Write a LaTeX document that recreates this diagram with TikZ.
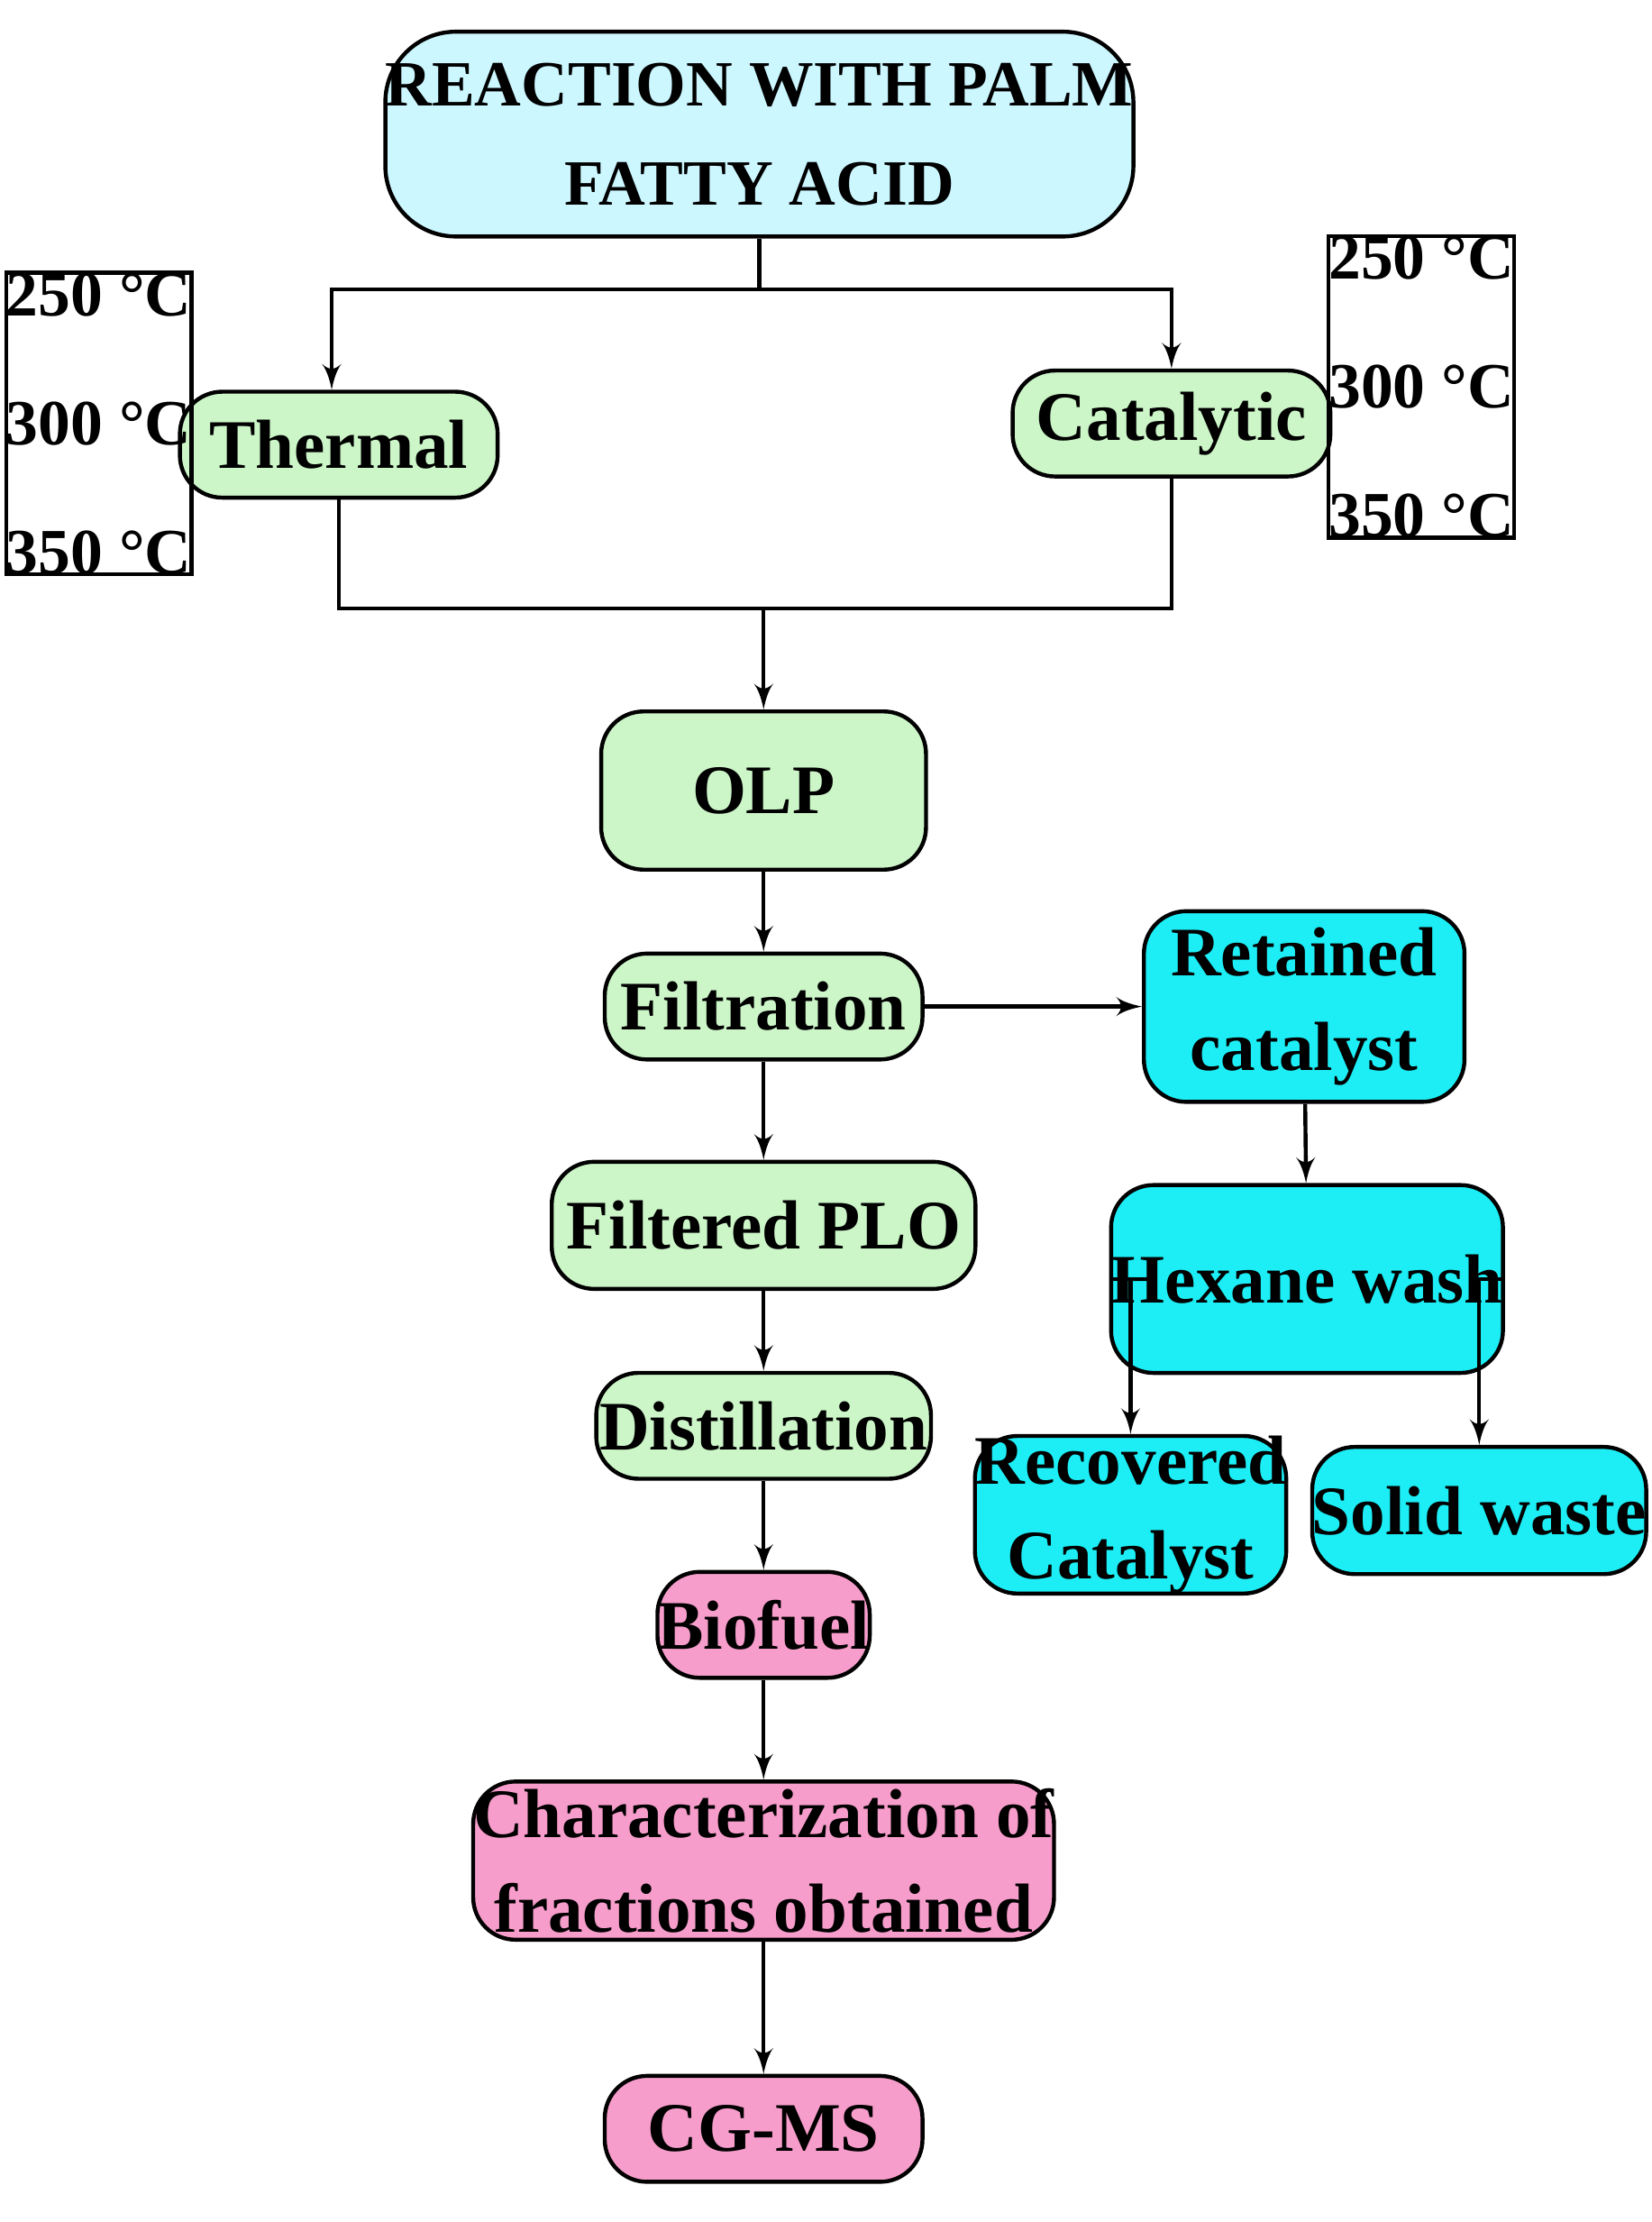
\documentclass[tikz,border=0pt]{standalone}
\usepackage{fontspec}
\setmainfont{Liberation Serif}
\usetikzlibrary{shapes,arrows,calc}
\definecolor{topblue}{HTML}{CCF7FF}
\definecolor{stepgreen}{HTML}{CCF5C8}
\definecolor{sidecyan}{HTML}{1DEEF5}
\definecolor{endpink}{HTML}{F79DCB}
\tikzstyle{block} = [rectangle, draw, thick, text centered, align=center, inner sep=0pt,
    rounded corners=0.3cm, font=\bfseries\fontsize{14}{19}\selectfont]
\tikzstyle{procblock} = [block, fill=stepgreen]
\tikzstyle{sideblock} = [block, fill=sidecyan]
\tikzstyle{endblock} = [block, fill=endpink]
\tikzstyle{tempbox} = [rectangle, draw, thick, align=center, inner sep=0pt,
    font=\bfseries\fontsize{13}{26}\selectfont]
\tikzstyle{line} = [draw, thick, -latex']
\begin{document}
\begin{tikzpicture}[x=0.01cm, y=-0.01cm]
    \useasboundingbox (0,0) rectangle (1170,1574);
    % Place nodes
    \node [block, fill=topblue, minimum width=3.5cm, minimum height=1.45cm, rounded corners=0.5cm,
        font=\bfseries\fontsize{13}{20}\selectfont] (react) at (538,95) {REACTION WITH PALM\\FATTY ACID};
    \node [procblock, minimum width=2.25cm, minimum height=0.75cm] (thermal) at (240,315) {Thermal};
    \node [procblock, minimum width=2.25cm, minimum height=0.75cm] (catalytic) at (830,300) {Catalytic};
    \node [tempbox, minimum width=1.05cm, minimum height=1.51cm] (tleft) at (70,300) {250 °C\\300 °C\\350 °C};
    \node [tempbox, minimum width=1.19cm, minimum height=1.56cm] (tright) at (1007,274) {250 °C\\300 °C\\350 °C};
    \node [procblock, minimum width=2.3cm, minimum height=1.12cm] (olp) at (541,560) {OLP};
    \node [procblock, minimum width=2.25cm, minimum height=0.75cm] (filt) at (541,713) {Filtration};
    \node [sideblock, minimum width=2.27cm, minimum height=1.35cm] (retained) at (924,713) {Retained\\catalyst};
    \node [procblock, minimum width=3cm, minimum height=0.9cm] (filtered) at (541,868) {Filtered PLO};
    \node [procblock, minimum width=2.37cm, minimum height=0.75cm] (distil) at (541,1010) {Distillation};
    \node [sideblock, minimum width=2.27cm, minimum height=1.33cm] (hexane) at (926,906) {Hexane wash};
    \node [sideblock, minimum width=1.87cm, minimum height=0.97cm] (recovered) at (801,1073) {Recovered\\Catalyst};
    \node [sideblock, minimum width=1.87cm, minimum height=0.9cm] (solid) at (1048,1070) {Solid waste};
    \node [endblock, minimum width=1.45cm, minimum height=0.75cm] (biofuel) at (541,1151) {Biofuel};
    \node [endblock, minimum width=3.65cm, minimum height=1.12cm] (charact) at (541,1318) {Characterization of\\fractions obtained};
    \node [endblock, minimum width=2.25cm, minimum height=0.75cm] (cgms) at (541,1508) {CG-MS};
    \coordinate (split) at (538,205);
    \coordinate (join) at (541,431);
    % Draw edges
    \path [draw, thick] (react.south) -- (split);
    \path [line] (split) -| ([xshift=-0.05cm]thermal.north);
    \path [line] (split) -| (catalytic.north);
    \path [draw, thick] (thermal.south) |- (join) -| (catalytic.south);
    \path [line] (join) -- (olp.north);
    \path [line] (olp) -- (filt);
    \path [line] (filt) -- (retained);
    \path [line] (filt) -- (filtered);
    \path [line] (filtered) -- (distil);
    \path [line] (distil) -- (biofuel);
    \path [line] (biofuel) -- (charact);
    \path [line] (charact) -- (cgms);
    \path [line] (retained) -- (hexane);
    \path [line] (hexane.west) -| (recovered.north);
    \path [line] (hexane.east) -| (solid.north);
\end{tikzpicture}
\end{document}
